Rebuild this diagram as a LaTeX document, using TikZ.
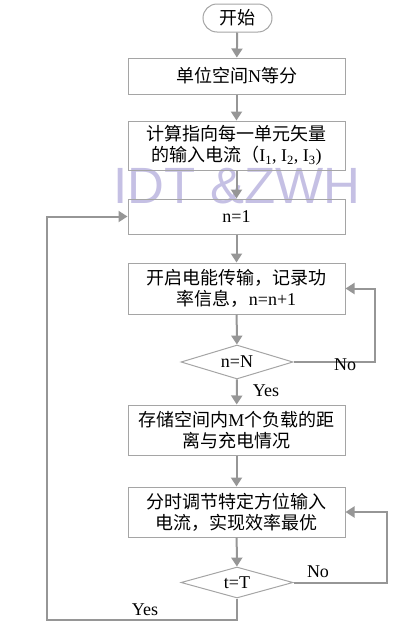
\documentclass[tikz,border=0pt]{standalone}
\usepackage{fontspec}
\setmainfont{Liberation Serif}
\newfontfamily\cjk{Noto Sans CJK SC}
\newfontfamily\wmfont{Liberation Sans}
\usetikzlibrary{arrows.meta,shapes.geometric}
\definecolor{linegray}{RGB}{150,150,150}
\definecolor{boxgray}{RGB}{165,165,165}
\definecolor{wmlav}{RGB}{197,192,228}
\begin{document}
\begin{tikzpicture}[x=1pt,y=-1pt,
  font=\fontsize{18}{21}\selectfont,
  box/.style={draw=boxgray,line width=1pt,minimum width=217pt,align=center,inner sep=0pt},
  decision/.style={diamond,draw=boxgray,line width=1pt,minimum width=112pt,inner sep=0pt,aspect=3.3},
  flow/.style={draw=linegray,line width=2pt,-{Triangle[length=9pt,width=11pt]}},
  lbl/.style={inner sep=0pt}]
\useasboundingbox (0,0) rectangle (420,632);
\node[font={\wmfont\fontsize{51}{51}\selectfont},text=wmlav,inner sep=0pt,anchor=base] (wm) at (237,203) {IDT \&ZWH};
% steps
\node[draw=boxgray,line width=1pt,rounded corners=14pt,minimum width=69pt,minimum height=28pt,inner sep=0pt] (start) at (237.5,18) {\cjk 开始};
\node[box,minimum height=36pt] (split) at (236.5,76) {{\cjk 单位空间}N{\cjk 等分}};
\node[box,minimum height=49pt] (calc) at (236.5,145.5) {{\cjk 计算指向每一单元矢量}\\{\cjk 的输入电流（}I\textsubscript{1}, I\textsubscript{2}, I\textsubscript{3})};
\node[box,minimum height=35pt] (init) at (236.5,216.5) {n=1};
\node[box,minimum height=51pt] (trans) at (236.5,288.5) {{\cjk 开启电能传输，记录功}\\{\cjk 率信息，}n=n+1};
\node[decision,minimum height=34pt] (chkn) at (237,362) {n=N};
\node[box,minimum height=50pt] (store) at (236.5,430) {{\cjk 存储空间内}M{\cjk 个负载的距}\\{\cjk 离与充电情况}};
\node[box,minimum height=50pt] (tune) at (236.5,512) {{\cjk 分时调节特定方位输入}\\{\cjk 电流，实现效率最优}};
\node[decision,minimum height=31pt] (chkt) at (237,582.5) {t=T};
\coordinate (rn) at (375,288.5);
\coordinate (rt) at (387,512);
\coordinate (lb) at (47,620);
% arrows
\draw[flow] (start) -- (split);
\draw[flow] (split) -- (calc);
\draw[flow] (calc) -- (init);
\draw[flow] (init) -- (trans);
\draw[flow] (trans) -- (chkn);
\draw[flow] (chkn) -- (store);
\draw[flow] (store) -- (tune);
\draw[flow] (tune) -- (chkt);
\draw[flow] (chkn.east) -| (rn) -- (trans.east);
\draw[flow] (chkt.east) -| (rt) -- (tune.east);
\draw[flow] (chkt.south) |- (lb) |- (init.west);
\node[lbl] (non) at (345,365) {No};
\node[lbl] (yesn) at (266,391) {Yes};
\node[lbl] (not) at (318,572) {No};
\node[lbl] (yest) at (145,610) {Yes};
\end{tikzpicture}
\end{document}
